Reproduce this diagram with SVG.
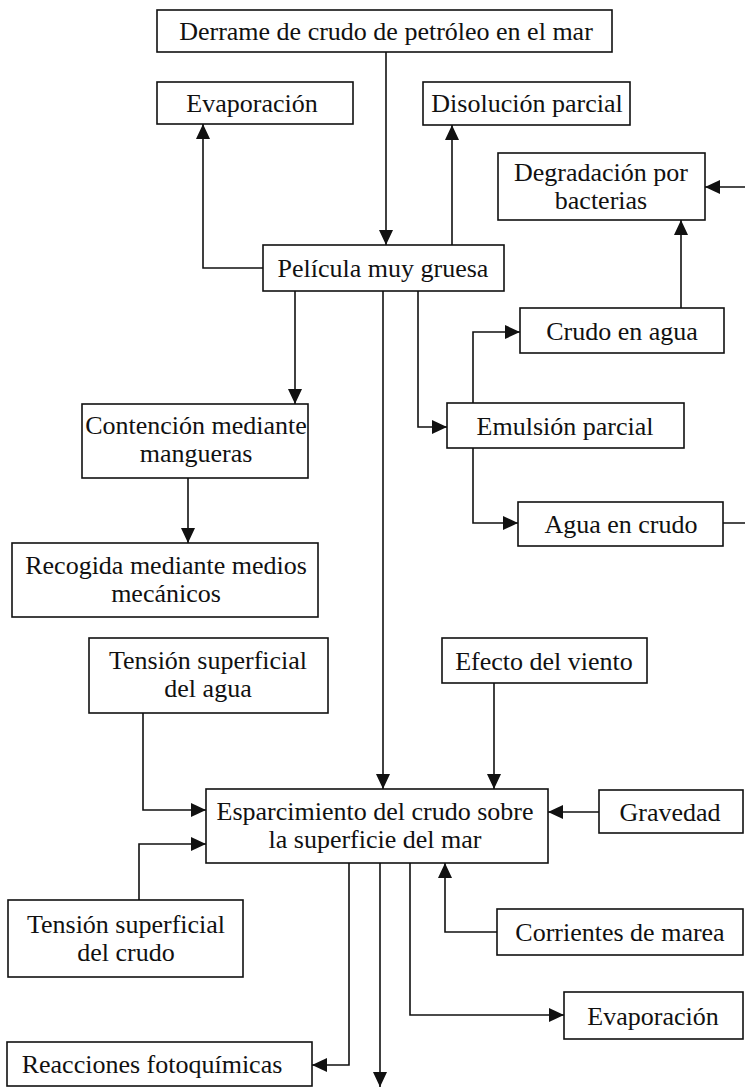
<svg xmlns="http://www.w3.org/2000/svg" width="745" height="1088" viewBox="0 0 745 1088">
<style>
.box{fill:#fff;stroke:#111;stroke-width:1.6}
.t{font-family:"Liberation Serif","Times New Roman",serif;font-size:26px;fill:#111;text-anchor:middle}
.c{fill:none;stroke:#111;stroke-width:1.6}
</style>
<defs>
<marker id="ah" markerUnits="userSpaceOnUse" markerWidth="16" markerHeight="14" refX="15" refY="7" orient="auto">
<path d="M0,0 L15,7 L0,14 Z" fill="#111"/>
</marker>
</defs>
<rect width="745" height="1088" fill="#fff"/>
<g id="connectors">
<path class="c" d="M386,52 V245" marker-end="url(#ah)"/>
<path class="c" d="M263,268 H203 V124" marker-end="url(#ah)"/>
<path class="c" d="M452,245 V125" marker-end="url(#ah)"/>
<path class="c" d="M295,291 V404" marker-end="url(#ah)"/>
<path class="c" d="M383,291 V789" marker-end="url(#ah)"/>
<path class="c" d="M418,291 V427 H447" marker-end="url(#ah)"/>
<path class="c" d="M473,403 V332 H520" marker-end="url(#ah)"/>
<path class="c" d="M473,448 V523 H518" marker-end="url(#ah)"/>
<path class="c" d="M681,308 V220" marker-end="url(#ah)"/>
<path class="c" d="M723,523 H747 V187 H705" marker-end="url(#ah)"/>
<path class="c" d="M188,478 V543" marker-end="url(#ah)"/>
<path class="c" d="M143,713 V810 H206" marker-end="url(#ah)"/>
<path class="c" d="M494,683 V789" marker-end="url(#ah)"/>
<path class="c" d="M599,812 H548" marker-end="url(#ah)"/>
<path class="c" d="M139,900 V844 H206" marker-end="url(#ah)"/>
<path class="c" d="M497,932 H445 V863" marker-end="url(#ah)"/>
<path class="c" d="M410,863 V1015 H564" marker-end="url(#ah)"/>
<path class="c" d="M349,863 V1065 H312" marker-end="url(#ah)"/>
<path class="c" d="M380,863 V1087" marker-end="url(#ah)"/>
</g>
<g id="n-derrame"><rect class="box" x="157" y="10" width="455" height="42"/><text class="t" x="386" y="40">Derrame de crudo de petróleo en el mar</text></g>
<g id="n-evaporacion1"><rect class="box" x="157" y="82" width="196" height="42"/><text class="t" x="252" y="112">Evaporación</text></g>
<g id="n-disolucion"><rect class="box" x="423" y="82" width="207" height="43"/><text class="t" x="527" y="112">Disolución parcial</text></g>
<g id="n-degradacion"><rect class="box" x="498" y="153" width="207" height="67"/><text class="t" x="601" y="181">Degradación por</text><text class="t" x="601" y="209">bacterias</text></g>
<g id="n-pelicula"><rect class="box" x="263" y="245" width="241" height="46"/><text class="t" x="383" y="277">Película muy gruesa</text></g>
<g id="n-crudoenagua"><rect class="box" x="520" y="308" width="204" height="45"/><text class="t" x="622" y="340">Crudo en agua</text></g>
<g id="n-contencion"><rect class="box" x="82" y="404" width="226" height="74"/><text class="t" x="196" y="434">Contención mediante</text><text class="t" x="196" y="462">mangueras</text></g>
<g id="n-emulsion"><rect class="box" x="447" y="403" width="237" height="45"/><text class="t" x="565" y="435">Emulsión parcial</text></g>
<g id="n-aguaencrudo"><rect class="box" x="518" y="502" width="205" height="44"/><text class="t" x="621" y="533">Agua en crudo</text></g>
<g id="n-recogida"><rect class="box" x="12" y="543" width="306" height="74"/><text class="t" x="166" y="574">Recogida mediante medios</text><text class="t" x="166" y="602">mecánicos</text></g>
<g id="n-tensionagua"><rect class="box" x="89" y="638" width="239" height="75"/><text class="t" x="208" y="669">Tensión superficial</text><text class="t" x="208" y="697">del agua</text></g>
<g id="n-efecto"><rect class="box" x="442" y="638" width="205" height="45"/><text class="t" x="544" y="670">Efecto del viento</text></g>
<g id="n-esparcimiento"><rect class="box" x="206" y="789" width="342" height="74"/><text class="t" x="375" y="820">Esparcimiento del crudo sobre</text><text class="t" x="375" y="848">la superficie del mar</text></g>
<g id="n-gravedad"><rect class="box" x="599" y="790" width="144" height="43"/><text class="t" x="670" y="821">Gravedad</text></g>
<g id="n-tensioncrudo"><rect class="box" x="8" y="900" width="235" height="77"/><text class="t" x="126" y="933">Tensión superficial</text><text class="t" x="126" y="961">del crudo</text></g>
<g id="n-corrientes"><rect class="box" x="497" y="909" width="246" height="46"/><text class="t" x="620" y="941">Corrientes de marea</text></g>
<g id="n-evaporacion2"><rect class="box" x="564" y="992" width="179" height="47"/><text class="t" x="653" y="1025">Evaporación</text></g>
<g id="n-reacciones"><rect class="box" x="7" y="1042" width="305" height="44"/><text class="t" x="152" y="1073">Reacciones fotoquímicas</text></g>
</svg>
